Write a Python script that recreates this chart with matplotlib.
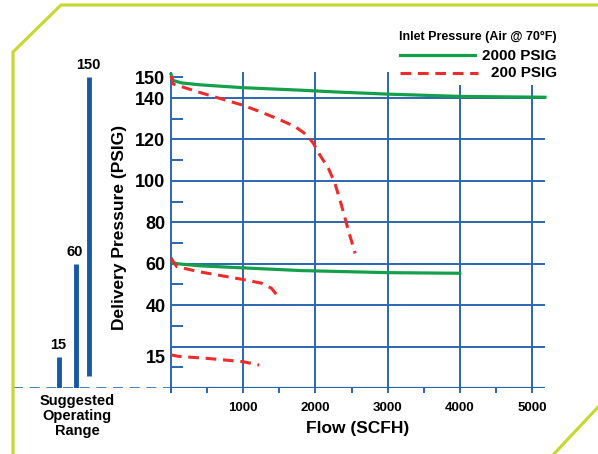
import matplotlib.pyplot as plt
from matplotlib.lines import Line2D

plt.rcParams['font.family'] = ['Liberation Sans', 'DejaVu Sans']
plt.rcParams['font.weight'] = 'bold'

# flow (SCFH) vs delivery pressure (PSIG)
hi_2000_x = [0, 30, 150, 400, 1000, 1800, 2250, 3000, 4000, 5180]
hi_2000_y = [151.5, 148.5, 147.3, 146.4, 145.0, 143.8, 143.0, 141.9, 140.8, 140.4]
mid_2000_x = [0, 30, 400, 1000, 1800, 3000, 4000]
mid_2000_y = [62.8, 60.2, 59.0, 58.0, 56.7, 55.7, 55.4]

hi_200_x = [0, 30, 400, 980, 1230, 1510, 1720, 1880, 1970, 2060, 2180, 2270, 2360, 2455, 2550]
hi_200_y = [150.7, 146.8, 142.7, 136.7, 133.5, 129.5, 126.2, 122.2, 118.2, 112.6, 106.1,
            98.9, 88.4, 76.3, 65.0]
mid_200_x = [0, 80, 380, 980, 1255, 1390, 1485]
mid_200_y = [62.6, 58.6, 56.2, 52.5, 50.6, 48.2, 44.1]
low_200_x = [0, 100, 500, 1000, 1220]
low_200_y = [16.0, 15.3, 14.3, 12.7, 11.1]

y_ticks = [15, 40, 60, 80, 100, 120, 140, 150]
y_grid = [20, 40, 60, 80, 100, 120, 140]
y_minor = [10, 30, 50, 70, 90, 110, 130, 150]
x_ticks = [1000, 2000, 3000, 4000, 5000]
x_minor = [0, 500, 1500, 2500, 3500, 4500]

# suggested operating range bars: (label, bottom, top)
ranges = [('15', 0, 15), ('60', 0, 60), ('150', 6, 150)]

BLUE = '#2a66b0'
GREEN = '#14a04a'
RED = '#ee2b2b'
LIME = '#c4d82e'

W, H = 598, 454
fig = plt.figure(figsize=(W / 100, H / 100), dpi=100)


def fx(px):
    return px / W


def fy(py):
    return 1 - py / H


ax = fig.add_axes([fx(171), fy(388), fx(545) - fx(171), fy(67) - fy(388)])
ax.set_xlim(0, 5180)
ax.set_ylim(0, 155)
for s in ax.spines.values():
    s.set_visible(False)
ax.tick_params(length=0)

# grid
ax.hlines(y_grid, 0, 5180, color=BLUE, lw=1.4, zorder=1)
ax.hlines(0, 0, 5180, color=BLUE, lw=1.6, zorder=1)
ax.vlines([0, 1000, 2000, 3000], -2.5, 152.7, color=BLUE, lw=1.4, zorder=1, clip_on=False)
ax.vlines([4000, 5000], -2.5, 146.4, color=BLUE, lw=1.4, zorder=1, clip_on=False)
ax.vlines(x_minor, -2.5, 0, color=BLUE, lw=1.4, clip_on=False)
ax.hlines(y_minor, 0, 170, color=BLUE, lw=1.4, zorder=1)

ax.set_xticks(x_ticks)
ax.set_xticklabels([str(v) for v in x_ticks], fontsize=9.5, fontweight='bold')
ax.set_yticks(y_ticks)
ax.set_yticklabels([str(v) for v in y_ticks], fontsize=13, fontweight='bold')
ax.tick_params(axis='x', pad=10)
ax.tick_params(axis='y', pad=4)
ax.set_xlabel('Flow (SCFH)', fontsize=12.5, fontweight='bold', labelpad=5)
ax.set_ylabel('Delivery Pressure (PSIG)', fontsize=12.5, fontweight='bold', labelpad=6)

# curves
ax.plot(hi_2000_x, hi_2000_y, color=GREEN, lw=2.3, zorder=3, clip_on=False)
ax.plot(mid_2000_x, mid_2000_y, color=GREEN, lw=2.3, zorder=3)
dash = dict(color=RED, lw=2.2, linestyle=(0, (3.5, 2.2)), zorder=4, clip_on=False)
ax.plot(hi_200_x, hi_200_y, **dash)
ax.plot(mid_200_x, mid_200_y, **dash)
ax.plot(low_200_x, low_200_y, **dash)

# legend
fig.text(fx(557), fy(37), 'Inlet Pressure (Air @ 70°F)', fontsize=9, fontweight='bold',
         ha='right', va='center')
fig.text(fx(557), fy(56), '2000 PSIG', fontsize=11, fontweight='bold', ha='right', va='center')
fig.text(fx(557), fy(73), '200 PSIG', fontsize=11, fontweight='bold', ha='right', va='center')
fig.add_artist(Line2D([fx(400), fx(475)], [fy(55), fy(55)], color=GREEN, lw=2.3))
fig.add_artist(Line2D([fx(400), fx(478)], [fy(73), fy(73)], color=RED, lw=2.2,
                      linestyle=(0, (3.5, 2.2))))

# suggested operating range panel
side = fig.add_axes([0, fy(388), fx(171), fy(67) - fy(388)], sharey=ax)
side.set_xlim(0, 171)
side.axis('off')
for (lab, lo, hi), xp in zip(ranges, [59, 76, 89]):
    side.vlines(xp, lo, hi, color='#1757a6', lw=3.5)
    side.text(xp - 1, hi + 2.5, lab, fontsize=10.5, fontweight='bold', ha='center', va='bottom')
side.hlines(0, 13, 171, color=BLUE, lw=1.2, linestyle=(0, (6, 4)))
fig.text(fx(77), fy(416), 'Suggested\nOperating\nRange', fontsize=10.5, fontweight='bold',
         ha='center', va='center', linespacing=1.05)

# border
fig.add_artist(Line2D([fx(13), fx(13), fx(61), fx(598)], [fy(456), fy(52), fy(5), fy(5)],
                      color=LIME, lw=2.2))
fig.add_artist(Line2D([fx(552), fx(600)], [fy(456), fy(405)], color=LIME, lw=2.2))

fig.savefig('out.png', dpi=100)
